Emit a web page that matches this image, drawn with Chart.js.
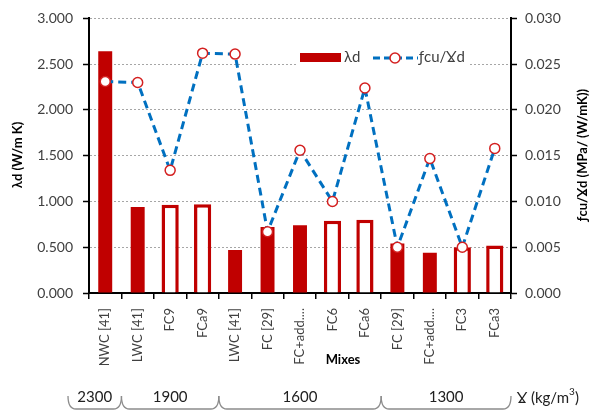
<!DOCTYPE html>
<html>
<head>
<meta charset="utf-8">
<script src="https://cdn.jsdelivr.net/npm/chart.js@4"></script>
<style>
  html, body { margin: 0; padding: 0; background: #fff; }
</style>
</head>
<body>
<canvas id="chart" width="592" height="414"></canvas>
<script>
const mixes = ['NWC [41]', 'LWC [41]', 'FC9', 'FCa9', 'LWC [41]', 'FC [29]', 'FC+add....', 'FC6', 'FCa6', 'FC [29]', 'FC+add....', 'FC3', 'FCa3'];
const lambdaD = [2.64, 0.94, 0.965, 0.97, 0.47, 0.72, 0.74, 0.79, 0.80, 0.54, 0.44, 0.50, 0.52];
const strengthRatio = [0.0231, 0.0230, 0.0134, 0.0262, 0.0261, 0.0067, 0.0156, 0.0100, 0.0224, 0.0050, 0.0147, 0.0050, 0.0158];
const hollowBar = [false, false, true, true, false, false, false, true, true, false, false, true, true];
const densityGroups = ['2300', '1900', '1600', '1300'];
const groupSizes = [1, 3, 5, 4];

const RED = '#C00000';
const BLUE = '#0070C0';
const FONT = 'Lato, "Open Sans", sans-serif';

const filledBars = lambdaD.map((v, i) => (hollowBar[i] ? null : v));
const hollowBars = lambdaD.map((v, i) => (hollowBar[i] ? v : null));

// legend, axis titles and density braces
const extras = {
  id: 'extras',
  afterDatasetsDraw(chart) {
    const { ctx, scales: { x } } = chart;
    ctx.save();

    // legend
    ctx.fillStyle = '#fff';
    ctx.fillRect(296, 47, 172, 20);
    ctx.fillStyle = RED;
    ctx.fillRect(300, 53, 41, 9);
    ctx.font = '15px ' + FONT;
    ctx.fillStyle = '#404040';
    ctx.textBaseline = 'middle';
    ctx.fillText('λd', 344, 57);
    ctx.strokeStyle = BLUE;
    ctx.lineWidth = 3;
    ctx.setLineDash([7, 4]);
    ctx.beginPath();
    ctx.moveTo(373, 58);
    ctx.lineTo(418, 58);
    ctx.stroke();
    ctx.setLineDash([]);
    ctx.beginPath();
    ctx.arc(395, 58, 5, 0, Math.PI * 2);
    ctx.fillStyle = '#fff';
    ctx.fill();
    ctx.lineWidth = 1.5;
    ctx.strokeStyle = '#D42020';
    ctx.stroke();
    ctx.fillStyle = '#404040';
    ctx.fillText('ƒcu/Ɣd', 419, 57);

    // axis titles
    ctx.fillStyle = '#000';
    ctx.font = 'bold 13px ' + FONT;
    ctx.textAlign = 'center';
    ctx.fillText('Mixes', 343, 360);
    ctx.save();
    ctx.translate(18, 155);
    ctx.rotate(-Math.PI / 2);
    ctx.fillText('λd (W/m K)', 0, 0);
    ctx.restore();
    ctx.save();
    ctx.translate(583, 155);
    ctx.rotate(-Math.PI / 2);
    ctx.fillText('ƒcu/Ɣd (MPa/ (W/mK))', 0, 0);
    ctx.restore();

    // density braces below the category axis
    const step = x.getPixelForValue(1) - x.getPixelForValue(0);
    const edge = (k) => x.getPixelForValue(0) + (k - 0.5) * step;
    const yTop = 396, yBot = 409, r = 8;
    ctx.strokeStyle = '#8C8C8C';
    ctx.lineWidth = 1.3;
    ctx.font = '15px ' + FONT;
    ctx.fillStyle = '#202020';
    let k = 0;
    densityGroups.forEach((g, i) => {
      let xa = edge(k);
      const xb = edge(k + groupSizes[i]);
      if (i === 0) xa -= 21;
      ctx.beginPath();
      ctx.moveTo(xa, yTop);
      ctx.quadraticCurveTo(xa, yBot, xa + r, yBot);
      ctx.lineTo(xb - r, yBot);
      ctx.quadraticCurveTo(xb, yBot, xb, yTop);
      ctx.stroke();
      ctx.fillText(g, (xa + xb) / 2, 397);
      k += groupSizes[i];
    });
    ctx.textAlign = 'left';
    ctx.fillText('Ɣ (kg/m', 517, 398);
    const w = ctx.measureText('Ɣ (kg/m').width;
    ctx.font = '10px ' + FONT;
    ctx.fillText('3', 517 + w, 392);
    ctx.font = '15px ' + FONT;
    ctx.fillText(')', 517 + w + 6, 398);

    ctx.restore();
  },
};

new Chart(document.getElementById('chart'), {
  data: {
    labels: mixes,
    datasets: [
      {
        type: 'line',
        label: 'ƒcu/Ɣd',
        data: strengthRatio,
        yAxisID: 'y1',
        borderColor: BLUE,
        borderWidth: 3,
        borderDash: [8, 5],
        pointRadius: 5,
        pointBackgroundColor: '#fff',
        pointBorderColor: '#D42020',
        pointBorderWidth: 1.5,
        tension: 0,
        order: 0,
      },
      {
        type: 'bar',
        label: 'λd',
        data: filledBars,
        yAxisID: 'y',
        backgroundColor: RED,
        borderWidth: 0,
        barPercentage: 0.43,
        categoryPercentage: 1,
        grouped: false,
        order: 1,
      },
      {
        type: 'bar',
        label: 'λd hollow',
        data: hollowBars,
        yAxisID: 'y',
        backgroundColor: '#fff',
        borderColor: RED,
        borderWidth: 3.5,
        barPercentage: 0.53,
        categoryPercentage: 1,
        grouped: false,
        order: 1,
      },
    ],
  },
  options: {
    responsive: false,
    animation: false,
    layout: { padding: { top: 18 } },
    plugins: { legend: { display: false }, tooltip: { enabled: false } },
    scales: {
      x: {
        afterFit: (s) => { s.height = 121; },
        grid: { offset: true, drawOnChartArea: false, color: '#000', tickLength: 6, lineWidth: 1.5 },
        border: { color: '#000', width: 2 },
        ticks: {
          autoSkip: false,
          minRotation: 90,
          maxRotation: 90,
          padding: 9,
          color: '#404040',
          font: { family: FONT, size: 13 },
        },
      },
      y: {
        position: 'left',
        min: 0,
        max: 3,
        afterFit: (s) => { s.width = 89; },
        ticks: {
          stepSize: 0.5,
          padding: 10,
          color: '#404040',
          font: { family: FONT, size: 14 },
          callback: (v) => v.toFixed(3),
        },
        grid: { color: '#A6A6A6', lineWidth: 1, tickLength: 6, tickColor: '#000', tickWidth: 1.5 },
        border: { color: '#000', width: 2, dash: [2, 2] },
      },
      y1: {
        position: 'right',
        min: 0,
        max: 0.03,
        afterFit: (s) => { s.width = 81; },
        ticks: {
          stepSize: 0.005,
          padding: 8,
          color: '#404040',
          font: { family: FONT, size: 14 },
          callback: (v) => v.toFixed(3),
        },
        grid: { drawOnChartArea: false, tickLength: 6, tickColor: '#000', tickWidth: 1.5 },
        border: { color: '#000', width: 2 },
      },
    },
  },
  plugins: [extras],
});
</script>
</body>
</html>
